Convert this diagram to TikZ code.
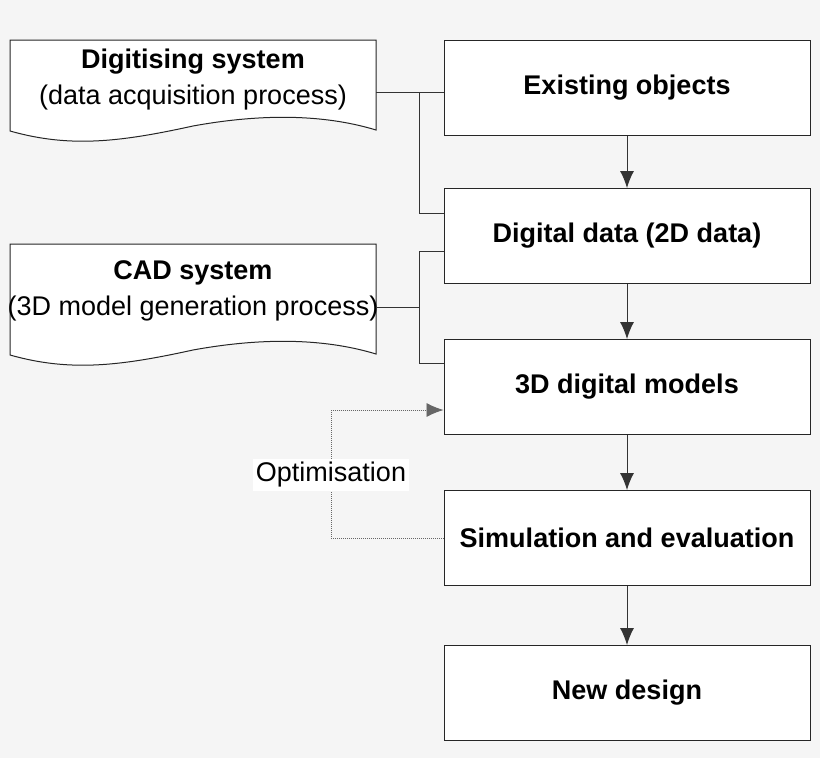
\documentclass[tikz,border=0pt]{standalone}
\usepackage{fontspec}
\setmainfont{Liberation Sans}
\usetikzlibrary{arrows.meta}
\begin{document}
\begin{tikzpicture}[x=1pt,y=-1pt,
  box/.style={draw=black!85,fill=white,line width=1pt,minimum width=366pt,minimum height=95pt,inner sep=0pt,font=\fontsize{27}{32}\selectfont\bfseries},
  doc/.style={draw=black!85,fill=white,line width=1pt},
  ln/.style={draw=black!80,line width=1pt},
  arr/.style={ln,-{Latex[length=17pt,width=14pt]}}]
\fill[black!4] (0,0) rectangle (820,758);
\useasboundingbox (0,0) rectangle (820,758);
\node[box] (eo) at (627,88) {Existing objects};
\node[box] (dd) at (627,236) {Digital data (2D data)};
\node[box] (dm) at (627,387) {3D digital models};
\node[box] (se) at (627,538) {Simulation and evaluation};
\node[box] (nd) at (627,693) {New design};
\draw[doc] (10,40) -- (376,40) -- (376,130) .. controls (330,116) and (270,112) .. (193,126) .. controls (120,142) and (70,148) .. (10,131) -- cycle;
\node[align=center,font=\fontsize{27}{36}\selectfont] (ds) at (193,80) {\textbf{Digitising system}\\(data acquisition process)};
\coordinate (dsr) at (376,92);
\draw[doc] (10,244) -- (376,244) -- (376,354) .. controls (330,340) and (270,336) .. (193,350) .. controls (120,366) and (70,372) .. (10,355) -- cycle;
\node[align=center,font=\fontsize{27}{36}\selectfont] (cad) at (193,291) {\textbf{CAD system}\\(3D model generation process)};
\coordinate (cadr) at (376,307);
\coordinate (j1) at (419,92);
\coordinate (j2) at (419,307);
\draw[ln] (dsr) -- (eo.west |- dsr);
\draw[ln] (j1) -- (419,213) -- (dd.west |- 0,213);
\draw[ln] (cadr) -- (j2);
\draw[ln] (dd.west |- 0,251) -- (419,251) -- (419,363) -- (dm.west |- 0,363);
\draw[arr] (eo) -- (dd);
\draw[arr] (dd) -- (dm);
\draw[arr] (dm) -- (se);
\draw[arr] (se) -- (nd);
\draw[ln,densely dotted,line width=0.8pt,draw=black!60,-{Latex[length=17pt,width=14pt]}] (se.west) -- (331,538) -- (331,410) -- (dm.west |- 0,410);
\node[fill=white,font=\fontsize{27}{32}\selectfont,inner sep=3pt] (opt) at (331,475) {Optimisation};
\end{tikzpicture}
\end{document}
